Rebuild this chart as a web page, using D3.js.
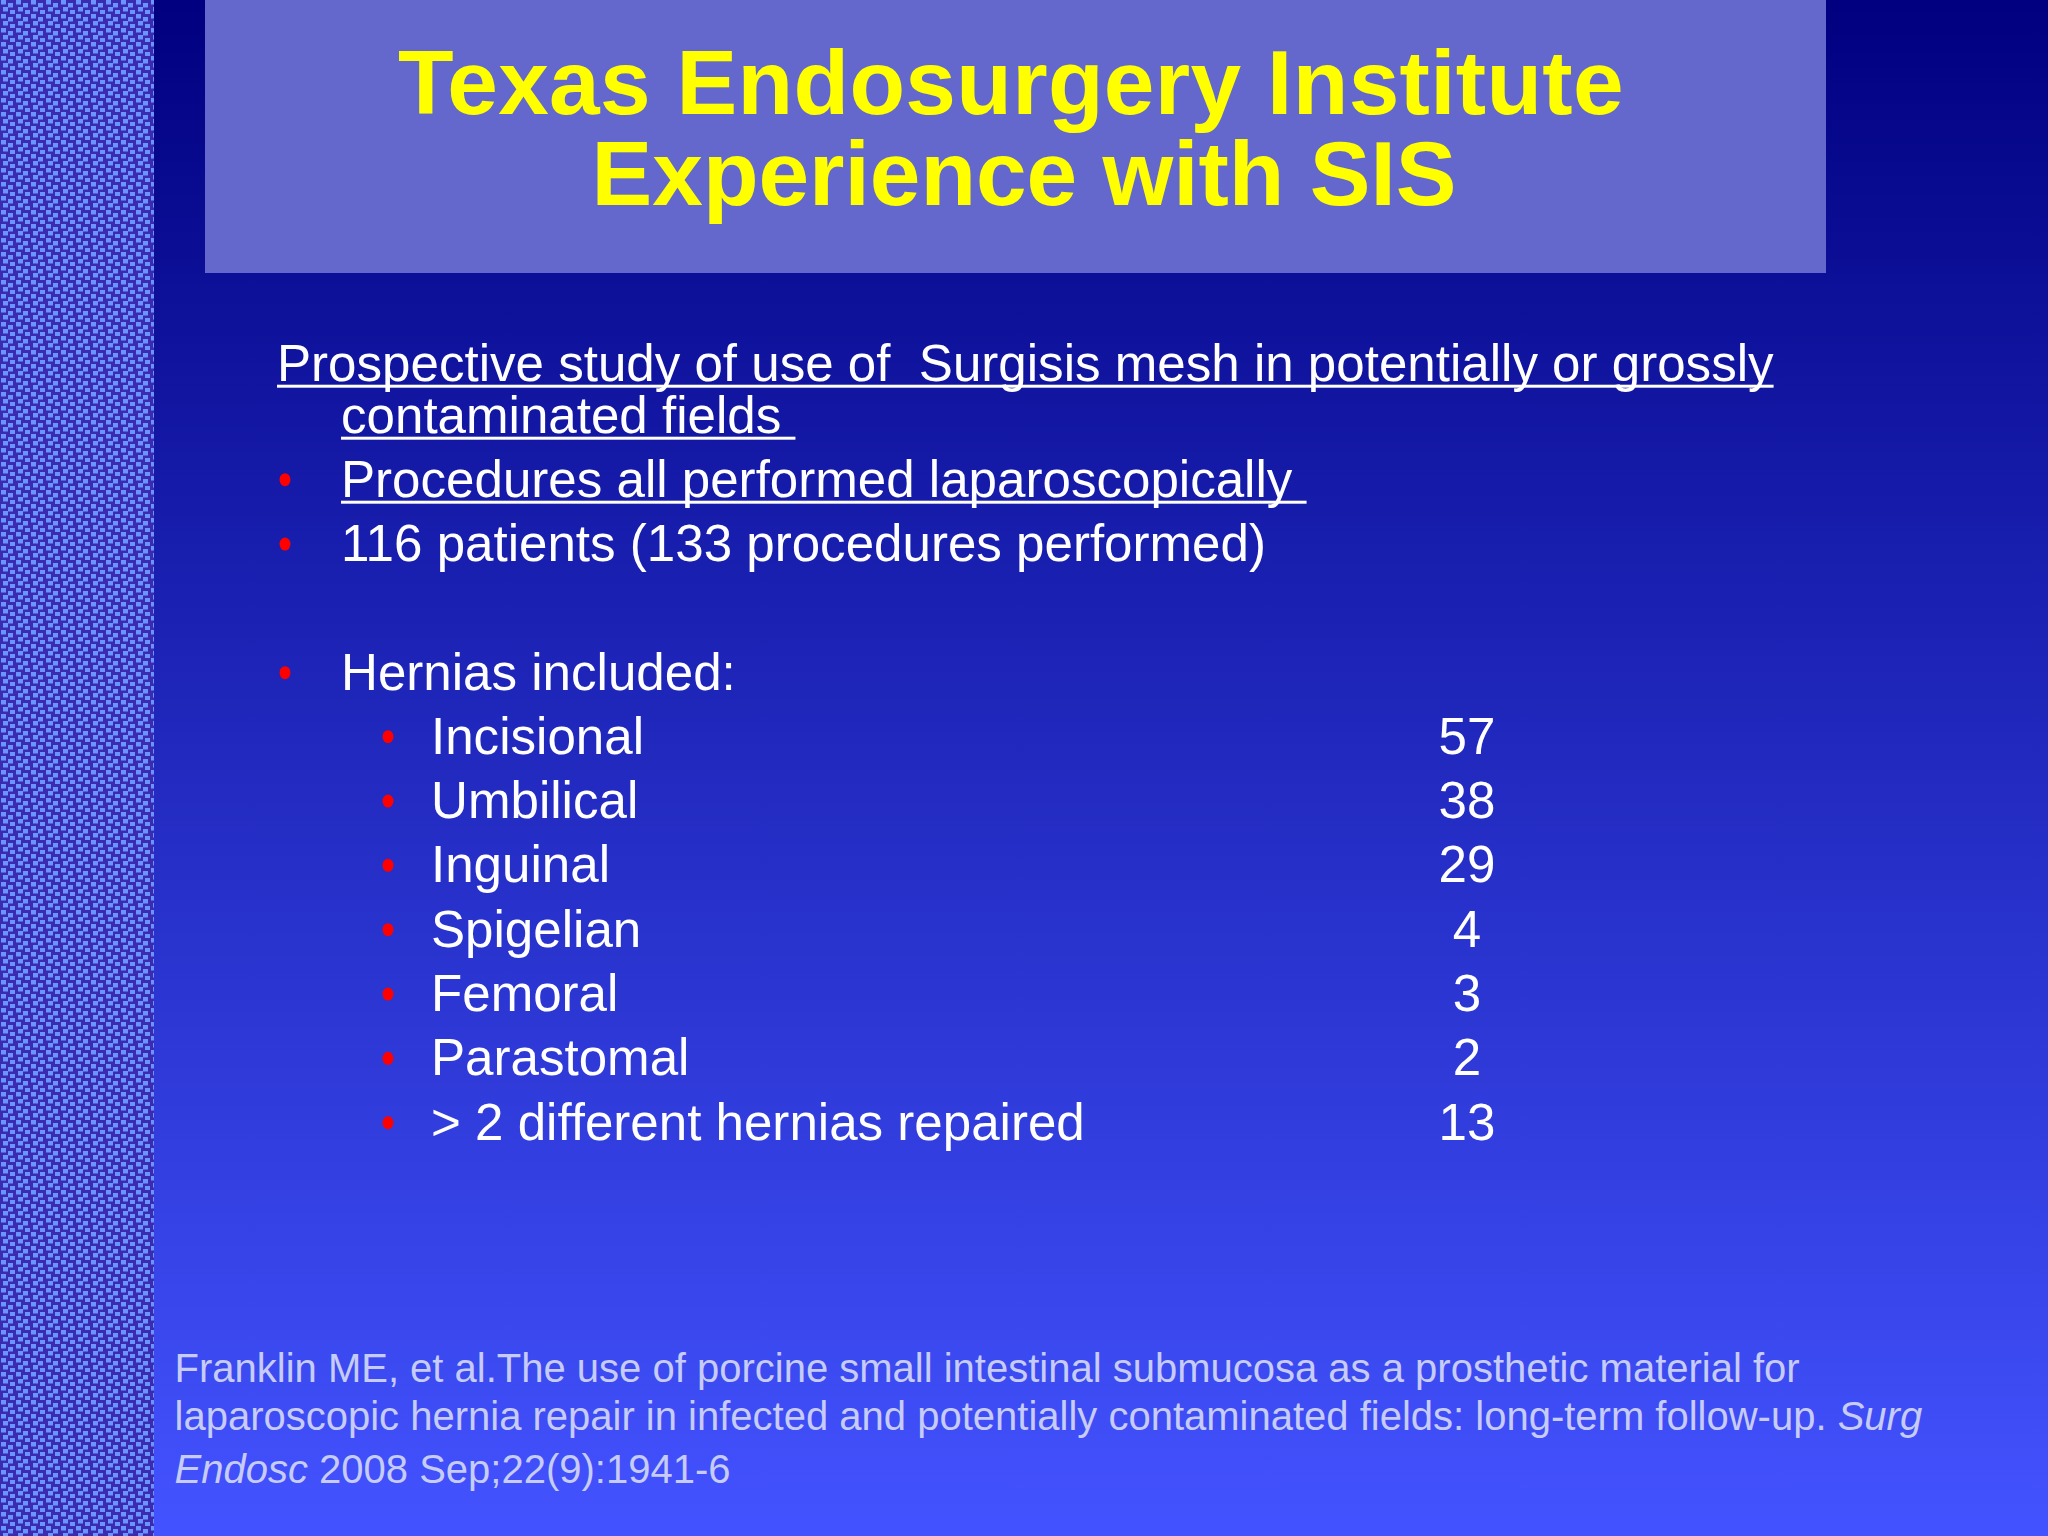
<!DOCTYPE html>
<html>
<head>
<meta charset="utf-8">
<script src="https://cdn.jsdelivr.net/npm/d3@7"></script>
<style>
  html, body { margin: 0; padding: 0; background: #000080; }
  text { font-family: "Liberation Sans", Arial, sans-serif; }
</style>
</head>
<body>
<svg id="chart" width="2048" height="1536"></svg>
<script>
// Slide content
const titleLines = ["Texas Endosurgery Institute", "Experience with SIS"];
const introLines = ["Prospective study of use of  Surgisis mesh in potentially or grossly", "contaminated fields "];
const bulletLines = ["Procedures all performed laparoscopically ", "116 patients (133 procedures performed)", "", "Hernias included:"];
const herniaTypes = ["Incisional", "Umbilical", "Inguinal", "Spigelian", "Femoral", "Parastomal", "> 2 different hernias repaired"];
const herniaCounts = [57, 38, 29, 4, 3, 2, 13];

const svg = d3.select("#chart");
const defs = svg.append("defs");

// background gradient
const grad = defs.append("linearGradient").attr("id", "bg")
    .attr("x1", 0).attr("y1", 0).attr("x2", 0).attr("y2", 1);
grad.append("stop").attr("offset", "0%").attr("stop-color", "#000080");
grad.append("stop").attr("offset", "100%").attr("stop-color", "#4353ff");

// dotted strip on the left
const pat = defs.append("pattern").attr("id", "weave")
    .attr("patternUnits", "userSpaceOnUse").attr("width", 15).attr("height", 14);
pat.append("rect").attr("width", 15).attr("height", 14).attr("fill", "#3a2bb0");
[[1, 0], [8, 3], [3, 7], [10, 10]].forEach(p => {
    pat.append("rect").attr("x", p[0]).attr("y", p[1]).attr("width", 5).attr("height", 4.5).attr("fill", "#6a94ff");
});

svg.append("rect").attr("width", 2048).attr("height", 1536).attr("fill", "url(#bg)");
svg.append("rect").attr("width", 154).attr("height", 1536).attr("fill", "url(#weave)");
svg.append("rect").attr("x", 205).attr("y", 0).attr("width", 1621).attr("height", 273).attr("fill", "#6468cc");

// title, first line sits a bit left of centre on the slide
svg.selectAll(".title").data(titleLines).enter().append("text")
    .attr("class", "title")
    .attr("x", (d, i) => i === 0 ? 1011 : 1024)
    .attr("y", (d, i) => 114 + i * 91)
    .attr("text-anchor", "middle")
    .attr("font-size", 91)
    .attr("font-weight", "bold")
    .attr("letter-spacing", (d, i) => i === 0 ? 0.33 : 0)
    .attr("fill", "#ffff00")
    .text(d => d);

function bodyText(x, y, str, underline) {
    const t = svg.append("text")
        .attr("x", x).attr("y", y)
        .attr("font-size", 51.1)
        .attr("fill", "#fff")
        .style("white-space", "pre")
        .text(str);
    // drawn by hand, the slide's underline runs unbroken through descenders
    if (underline) {
        svg.append("rect")
            .attr("x", x).attr("y", y + 4)
            .attr("width", t.node().getComputedTextLength())
            .attr("height", 3)
            .attr("fill", "#fff");
    }
    return t;
}

bodyText(277, 380.7, introLines[0], true);
bodyText(341, 432.7, introLines[1], true);

function bullet(x, y) {
    svg.append("ellipse").attr("cx", x).attr("cy", y).attr("rx", 5.5).attr("ry", 6.5).attr("fill", "#ff0000");
}

// rows all sit on the same 64.3px grid
const rowY = d3.scalePoint().domain(d3.range(bulletLines.length)).range([496.7, 689.7]);
bulletLines.forEach((s, i) => {
    if (!s) return;
    bullet(285, rowY(i) - 17);
    bodyText(341, rowY(i), s, i === 0);
});

const herniaY = d3.scalePoint().domain(herniaTypes).range([753.7, 1139.7]);
herniaTypes.forEach((s, i) => {
    bullet(388, herniaY(s) - 17);
    bodyText(431, herniaY(s), s, false);
    bodyText(1467, herniaY(s), String(herniaCounts[i]), false).attr("text-anchor", "middle");
});

// reference
const refColor = "#c6cbf7";
function refText(y) {
    return svg.append("text").attr("x", 174.5).attr("y", y)
        .attr("font-size", 40).attr("fill", refColor);
}
refText(1381.7).text("Franklin ME, et al.The use of porcine small intestinal submucosa as a prosthetic material for");
const r2 = refText(1429.7);
r2.append("tspan").text("laparoscopic hernia repair in infected and potentially contaminated fields: long-term follow-up. ");
r2.append("tspan").attr("font-style", "italic").text("Surg");
const r3 = refText(1482.7);
r3.append("tspan").attr("font-style", "italic").text("Endosc");
r3.append("tspan").text(" 2008 Sep;22(9):1941-6");
</script>
</body>
</html>
